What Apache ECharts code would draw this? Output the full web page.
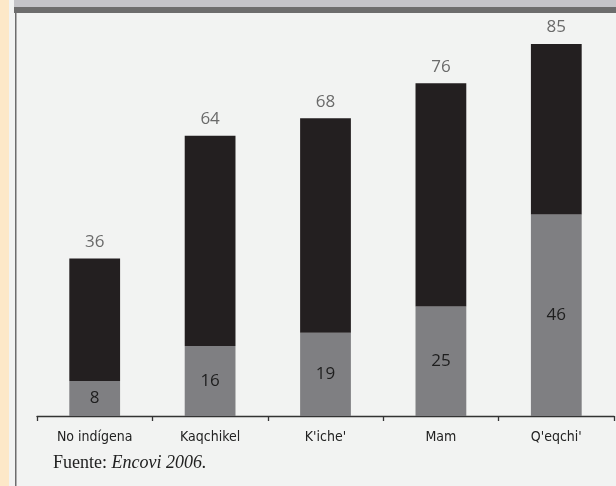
<!DOCTYPE html>
<html><head><meta charset="utf-8">
<script src="https://cdn.jsdelivr.net/npm/echarts@6/dist/echarts.min.js"></script>
<style>html,body{margin:0;padding:0;background:#f2f3f2;}#c{width:616px;height:486px;}</style>
</head><body><div id="c"></div>
<script>
const categories = ['No indígena', 'Kaqchikel', "K'iche'", 'Mam', "Q'eqchi'"];
const grayValues = [8, 16, 19, 25, 46];
const totalValues = [36, 64, 68, 76, 85];
const blackValues = totalValues.map((t, i) => t - grayValues[i]);

const chart = echarts.init(document.getElementById('c'), null, {renderer: 'canvas'});
chart.setOption({
  backgroundColor: '#f2f3f2',
  animation: false,
  grid: {left: 37, right: 2, top: 22, bottom: 70},
  xAxis: {
    type: 'category', data: categories,
    axisLine: {lineStyle: {color: '#333', width: 1.3}},
    axisTick: {show: true, length: 5, lineStyle: {color: '#333', width: 1.3}},
    axisLabel: {color: '#222', fontSize: 14, margin: 14, fontFamily: '"Liberation Sans Narrow","DejaVu Sans Condensed",sans-serif'}
  },
  yAxis: {type: 'value', min: 0, max: 90, show: false, splitLine: {show: false}},
  series: [
    {type: 'bar', stack: 's', data: grayValues, barWidth: '44%',
     itemStyle: {color: '#7f7f82'},
     label: {show: true, position: 'inside', color: '#1e1e1e', fontSize: 17, fontFamily: '"Open Sans","Noto Sans",sans-serif'}},
    {type: 'bar', stack: 's', data: blackValues, barWidth: '44%',
     itemStyle: {color: '#231f20'},
     label: {show: true, position: 'top', distance: 8, color: '#6a6a6a', fontSize: 17,
       fontFamily: '"Open Sans","Noto Sans",sans-serif',
       formatter: p => totalValues[p.dataIndex]}}
  ],
  graphic: [
    {type: 'rect', shape: {x: 0, y: 0, width: 9, height: 486}, style: {fill: '#fde8c8'}},
    {type: 'rect', shape: {x: 14, y: 0, width: 602, height: 7}, style: {fill: '#c4c4c8'}},
    {type: 'rect', shape: {x: 14, y: 7, width: 602, height: 6}, style: {fill: '#6d6d6d'}},
    {type: 'rect', shape: {x: 15, y: 13, width: 1.5, height: 473}, style: {fill: '#6d6d6d'}},
    {type: 'text', left: 53, top: 454, style: {
      text: '{a|Fuente: }{b|Encovi 2006.}',
      rich: {
        a: {fontFamily: '"Liberation Serif","DejaVu Serif",serif', fontSize: 18, fill: '#222'},
        b: {fontFamily: '"Liberation Serif","DejaVu Serif",serif', fontSize: 18, fontStyle: 'italic', fill: '#222'}
      }}}
  ]
});
</script></body></html>
